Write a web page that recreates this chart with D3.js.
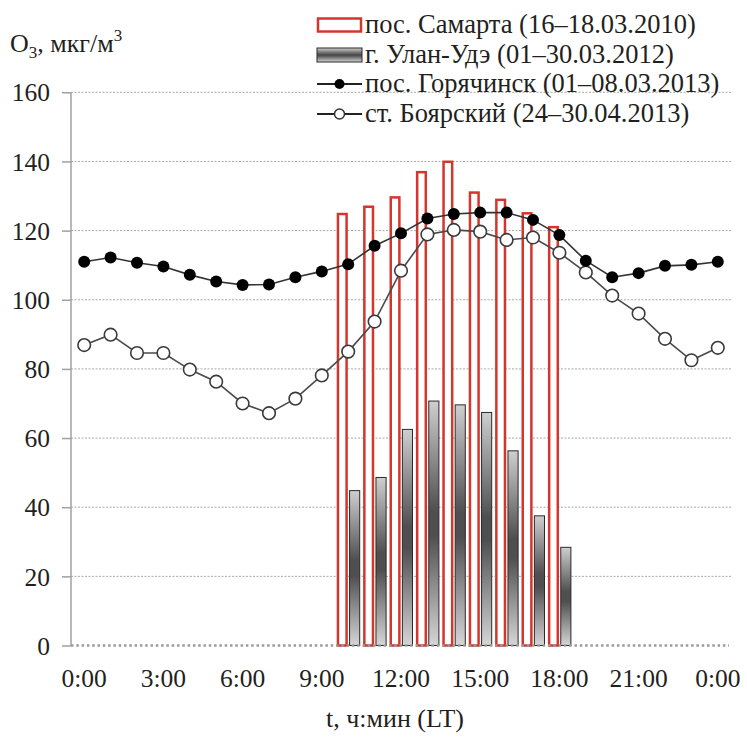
<!DOCTYPE html>
<html>
<head>
<meta charset="utf-8">
<script src="https://cdn.jsdelivr.net/npm/d3@7"></script>
<style>
html,body{margin:0;padding:0;background:#fff;}
svg{display:block;}
</style>
</head>
<body>
<svg id="chart" width="747" height="737"></svg>
<script>
// ---- data ----
const hours = [0,1,2,3,4,5,6,7,8,9,10,11,12,13,14,15,16,17,18,19,20,21,22,23,24];
const barHours = [10,11,12,13,14,15,16,17,18];
const samarta = [124.8,126.9,129.6,136.9,139.9,131.0,128.9,125.0,121.0];
const ulanUde = [44.8,48.6,62.5,70.7,69.6,67.4,56.3,37.5,28.4];
const goryachinsk = [111.0,112.2,110.7,109.6,107.2,105.3,104.3,104.4,106.5,108.2,110.3,115.6,119.2,123.5,124.8,125.2,125.2,123.1,118.7,111.3,106.5,107.7,109.8,110.1,111.0];
const boyarsky = [86.9,89.9,84.6,84.6,79.8,76.3,70.0,67.2,71.4,78.1,85.0,93.7,108.4,118.9,120.2,119.7,117.3,118.0,113.6,107.9,101.2,96.0,88.7,82.5,86.1];
const yTicks = [0,20,40,60,80,100,120,140,160];
const xTickHours = [0,3,6,9,12,15,18,21,24];
const xTickLabels = ["0:00","3:00","6:00","9:00","12:00","15:00","18:00","21:00","0:00"];
const legendLabels = ["пос. Самарта (16–18.03.2010)","г. Улан-Удэ (01–30.03.2012)","пос. Горячинск (01–08.03.2013)","ст. Боярский (24–30.04.2013)"];
const barSeries = ["samarta","ulanUde"];

const FONT = '"Liberation Serif","Times New Roman",serif';
const TXT = "#231f20";
const svg = d3.select("#chart");
const L = 71, R = 731, T = 92.3, B = 645.5;

const x = d3.scaleBand().domain(hours).range([L, R]).padding(0);
const y = d3.scaleLinear().domain([0,160]).range([B, T]);
const xSub = d3.scaleBand().domain(barSeries).range([-11.5, 12]).paddingInner(0.1);
const cx = h => x(h) + x.bandwidth()/2;

// gradient for gray bars
const defs = svg.append("defs");
const g1 = defs.append("linearGradient").attr("id","grayGrad").attr("x1",0).attr("y1",0).attr("x2",0).attr("y2",1);
[[0,"#cfcfcf"],[0.45,"#4f4f4f"],[0.55,"#4f4f4f"],[1,"#d6d6d6"]].forEach(([o,c])=>g1.append("stop").attr("offset",o).attr("stop-color",c));

// gridlines
svg.append("g").selectAll("line").data(yTicks.filter(d=>d>0)).join("line")
  .attr("x1", L).attr("x2", R).attr("y1", d=>y(d)).attr("y2", d=>y(d))
  .attr("stroke","#a8a8a8").attr("stroke-width",1).attr("stroke-dasharray","2,1.5");

// y axis
const yAxis = d3.axisLeft(y).tickValues(yTicks).tickSize(9).tickPadding(12).tickFormat(d3.format("d"));
const ya = svg.append("g").attr("transform",`translate(${L},0)`).call(yAxis);
ya.select(".domain").attr("stroke","#a0a0a0").attr("stroke-width",1.5).attr("d",`M0,${B}V${T}`);
ya.selectAll(".tick line").attr("stroke","#a0a0a0").attr("stroke-width",1.5);
ya.selectAll(".tick text").style("font-family",FONT).style("font-size","25.5px").attr("fill",TXT).attr("dy","0.34em");

// x axis labels
const xAxis = d3.axisBottom(x).tickValues(xTickHours).tickSize(0).tickPadding(23)
  .tickFormat(d=>xTickLabels[xTickHours.indexOf(d)]);
const xa = svg.append("g").attr("transform",`translate(0,${B})`).call(xAxis);
xa.select(".domain").remove();
xa.selectAll(".tick text").style("font-family",FONT).style("font-size","25.5px").attr("fill",TXT);

// bars
const bars = svg.append("g");
bars.selectAll("rect.sam").data(barHours).join("rect").attr("class","sam")
  .attr("x", h=>cx(h)+xSub("samarta")+1.25)
  .attr("width", xSub.bandwidth()-2.5)
  .attr("y", (h,i)=>y(samarta[i]))
  .attr("height", (h,i)=>B - y(samarta[i]))
  .attr("fill","#fff").attr("stroke","#d3362c").attr("stroke-width",2.5);
bars.selectAll("rect.ulan").data(barHours).join("rect").attr("class","ulan")
  .attr("x", h=>cx(h)+xSub("ulanUde")+0.5)
  .attr("width", xSub.bandwidth()-1)
  .attr("y", (h,i)=>y(ulanUde[i]))
  .attr("height", (h,i)=>B - y(ulanUde[i]))
  .attr("fill","url(#grayGrad)").attr("stroke","#2a2a2a").attr("stroke-width",1);

// zero line (dotted)
svg.append("line").attr("x1",L).attr("x2",R-2).attr("y1",B).attr("y2",B)
  .attr("stroke","#9a9a9a").attr("stroke-width",2.5).attr("stroke-dasharray","2.5,2.8");

// lines
const line = d3.line().x((d,i)=>cx(hours[i])).y(d=>y(d));
svg.append("path").datum(boyarsky).attr("d",line).attr("fill","none").attr("stroke","#4a4a4a").attr("stroke-width",1.6);
svg.append("path").datum(goryachinsk).attr("d",line).attr("fill","none").attr("stroke","#333").attr("stroke-width",1.6);
svg.append("g").selectAll("circle").data(boyarsky).join("circle")
  .attr("cx",(d,i)=>cx(hours[i])).attr("cy",d=>y(d)).attr("r",6.3)
  .attr("fill","#fff").attr("stroke","#3a3a3a").attr("stroke-width",1.6);
svg.append("g").selectAll("circle").data(goryachinsk).join("circle")
  .attr("cx",(d,i)=>cx(hours[i])).attr("cy",d=>y(d)).attr("r",6)
  .attr("fill","#000");

// axis titles
const yt = svg.append("text").attr("x",10).attr("y",52).style("font-family",FONT).style("font-size","26px").attr("fill",TXT);
yt.append("tspan").text("O");
yt.append("tspan").style("font-size","17px").attr("dy",6).text("3");
yt.append("tspan").attr("dy",-6).text(", мкг/м");
yt.append("tspan").style("font-size","17px").attr("dy",-11).text("3");

svg.append("text").attr("x",395).attr("y",727).attr("text-anchor","middle")
  .style("font-family",FONT).style("font-size","26px").attr("fill",TXT).text("t, ч:мин (LT)");

// legend
const lg = svg.append("g");
const lx = 317, lw = 45, rowY = [25, 55, 84, 114];
lg.append("rect").attr("x",lx+1).attr("y",rowY[0]-6.5).attr("width",lw-2).attr("height",13)
  .attr("fill","#fff").attr("stroke","#d3362c").attr("stroke-width",2.5);
lg.append("rect").attr("x",lx).attr("y",rowY[1]-7).attr("width",lw).attr("height",14)
  .attr("fill","url(#grayGrad)").attr("stroke","#2a2a2a").attr("stroke-width",1);
[2,3].forEach(k=>{
  lg.append("line").attr("x1",lx).attr("x2",lx+lw).attr("y1",rowY[k]).attr("y2",rowY[k]).attr("stroke","#222").attr("stroke-width",1.8);
});
lg.append("circle").attr("cx",lx+lw/2).attr("cy",rowY[2]).attr("r",5).attr("fill","#000");
lg.append("circle").attr("cx",lx+lw/2).attr("cy",rowY[3]).attr("r",5).attr("fill","#fff").attr("stroke","#333").attr("stroke-width",1.5);
lg.selectAll("text.lt").data(legendLabels).join("text").attr("class","lt")
  .attr("x",lx+lw+3).attr("y",(d,i)=>rowY[i]+8)
  .style("font-family",FONT).style("font-size","26.5px").attr("fill",TXT).text(d=>d);
</script>
</body>
</html>
